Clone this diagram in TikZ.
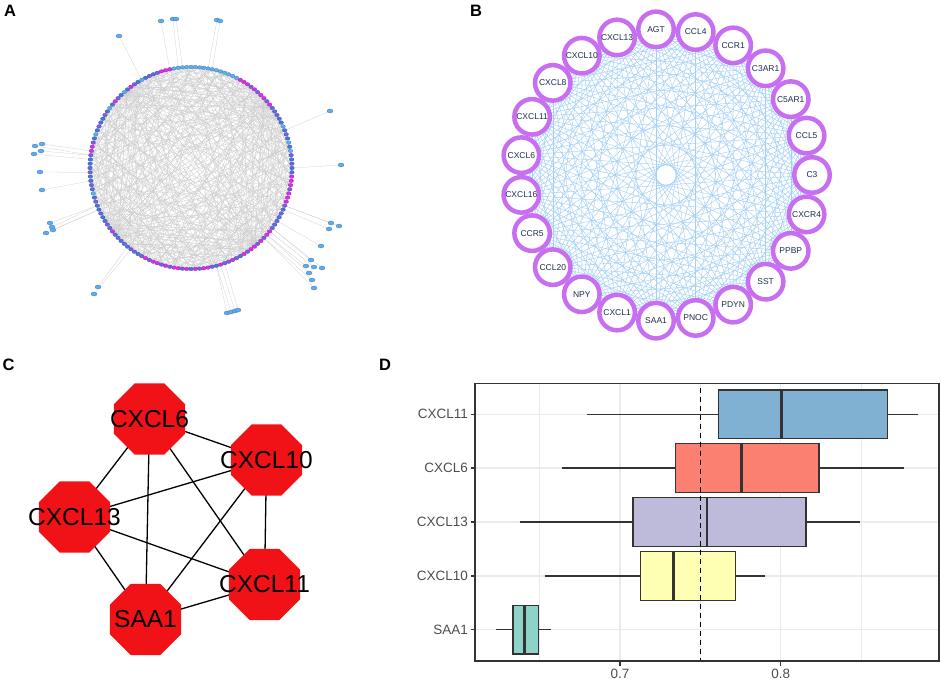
\documentclass[tikz,border=0pt]{standalone}
\usepackage{fontspec}
\setmainfont{Liberation Sans}
\usetikzlibrary{shapes.geometric,backgrounds}
\definecolor{aL}{RGB}{95,172,240}
\definecolor{aB}{RGB}{72,118,222}
\definecolor{aP}{RGB}{118,96,230}
\definecolor{aM}{RGB}{214,48,236}
\definecolor{bviolet}{RGB}{200,110,240}
\definecolor{bedge}{RGB}{165,208,245}
\definecolor{btext}{RGB}{30,45,80}
\definecolor{cred}{RGB}{240,18,22}
\definecolor{dframe}{RGB}{51,51,51}
\definecolor{dgrid}{RGB}{235,235,235}
\definecolor{dtext}{RGB}{77,77,77}
\definecolor{sthree1}{HTML}{80B1D3}
\definecolor{sthree2}{HTML}{FB8072}
\definecolor{sthree3}{HTML}{BEBADA}
\definecolor{sthree4}{HTML}{FFFFB3}
\definecolor{sthree5}{HTML}{8DD3C7}
\newcommand\drawboxrow[7]{%
  \draw[dwhisk] ({#2},{#1}) -- ({#3},{#1}) ({#5},{#1}) -- ({#6},{#1});
  \draw[dbox, fill=#7] ({#3},{#1-24.3}) rectangle ({#5},{#1+24.3});
  \draw[dmed] ({#4},{#1-24.3}) -- ({#4},{#1+24.3});
}
\def\satlist{119/36,161/21,173/19,176/19,217/20,220/21,330/111,341/165,35/146,42/144,34/154,41/151,40/172,42/190,50/223,52/227,53/230,46/233,98/287,94/294,227/313,231/312,235/311,238/310,331/223,339/226,329/229,321/246,311/260,306/266,314/267,322/268,309/273,312/280,314/288}
\begin{document}
\begin{tikzpicture}[x=1pt,y=-1pt,
  plabel/.style={font=\fontsize{16.5}{17}\selectfont\bfseries, inner sep=0},
  anode/.style={ellipse, minimum width=4.6pt, minimum height=3.6pt, inner sep=0, line width=0.3pt},
  snode/.style={ellipse, minimum width=6pt, minimum height=4pt, inner sep=0, fill=aL, draw=aL!70!black, line width=0.3pt},
  achord/.style={draw=black!20, line width=0.25pt},
  bnode/.style={circle, minimum size=35.5pt, inner sep=0, line width=4.5pt, draw=bviolet, fill=white, text=btext, font=\fontsize{8.5}{9}\selectfont},
  bedgestyle/.style={draw=bedge, line width=0.45pt},
  oct/.style={regular polygon, regular polygon sides=8, minimum size=77pt, inner sep=0, fill=cred, draw=none},
  ctext/.style={font=\fontsize{24.5}{25}\selectfont, inner sep=0},
  cedge/.style={draw=black, line width=1.3pt},
  dwhisk/.style={draw=dframe, line width=1.2pt},
  dbox/.style={draw=dframe, line width=1.2pt},
  dmed/.style={draw=dframe, line width=2.6pt},
  dlab/.style={text=dtext, font=\fontsize{13.5}{14}\selectfont, inner sep=0}
]
\useasboundingbox (0,0) rectangle (941,683);

% ---------------- Panel A ----------------
\node[plabel] (pA) at (10,11) {A};
\def\acx{191}\def\acy{168}\def\ar{101}
\foreach \cc [count=\i from 0] in {B,P,B,P,L,B,L,B,P,B,L,B,B,P,B,P,M,P,M,M,P,M,P,M,M,M,L,L,L,L,L,L,L,L,L,L,L,L,L,L,L,L,M,M,M,P,B,P,B,L,B,P,M,B,L,B,P,M,B,L,B,P,B,B,P,B,L,B,P,M,M,P,B,B,B,P,B,B,P,B,L,B,P,B,B,P,B,B,P,B,M,B,P,B,P,B,P,P,B,P,M,P,M,M,P,M,P,M,M,P,M,B,M,P,M,M,P,B,M,P,P,M,P,B,M,P,M,M,P,M,P,M,M,P,B,P,B,P,B,P,M,M,M,P,M,M,M,B} {
  \pgfmathsetmacro\ang{\i*(360/148)}
  \node[anode, fill=a\cc, draw=a\cc!75!black] (a\i) at ({\acx+\ar*cos(\ang)},{\acy-\ar*sin(\ang)}) {};
}
\foreach \x/\y [count=\k] in \satlist {
  \node[snode] (s\k) at (\x,\y) {};
}
\begin{pgfonlayer}{background}
  \foreach \i in {0,...,147} {
    \pgfmathtruncatemacro\j{mod(\i*37+53,148)}
    \pgfmathtruncatemacro\m{mod(\i*71+29,148)}
    \pgfmathtruncatemacro\n{mod(\i+25+mod(\i*13,45),148)}
    \draw[achord] (a\i.center) -- (a\j.center) (a\i.center) -- (a\m.center) (a\i.center) -- (a\n.center);
  }
  \foreach \x/\y [count=\k] in \satlist {
    \pgfmathsetmacro\sa{atan2(\acy-\y,\x-\acx)}
    \pgfmathtruncatemacro\t{mod(round(\sa/(360/148))+296,148)}
    \draw[achord] (s\k) -- (a\t.center);
  }
\end{pgfonlayer}

% ---------------- Panel B ----------------
\node[plabel] (pB) at (476,11) {B};
\def\bcx{666}\def\bcy{175}\def\br{146}
\foreach \t [count=\i from 0] in {C3,CCL5,C5AR1,C3AR1,CCR1,CCL4,AGT,CXCL13,CXCL10,CXCL8,CXCL11,CXCL6,CXCL16,CCR5,CCL20,NPY,CXCL1,SAA1,PNOC,PDYN,SST,PPBP,CXCR4} {
  \pgfmathsetmacro\ang{\i*(360/23)}
  \node[bnode] (b\i) at ({\bcx+\br*cos(\ang)},{\bcy-\br*sin(\ang)}) {\t};
}
\begin{pgfonlayer}{background}
  \foreach \i in {0,...,21} {
    \pgfmathtruncatemacro\s{\i+1}
    \foreach \j in {\s,...,22} {
      \draw[bedgestyle] (b\i.center) -- (b\j.center);
    }
  }
\end{pgfonlayer}

% ---------------- Panel C ----------------
\node[plabel] (pC) at (8.5,365) {C};
\node[oct] (c6) at (149.5,419) {};
\node[oct] (c10) at (266.5,460) {};
\node[oct] (c13) at (74.5,517) {};
\node[oct] (c11) at (264.5,584.5) {};
\node[oct] (csaa) at (145.5,619.5) {};
\node[ctext] (c6t) at (c6) {CXCL6};
\node[ctext] (c10t) at (c10) {CXCL10};
\node[ctext] (c13t) at (c13) {CXCL13};
\node[ctext] (c11t) at (c11) {CXCL11};
\node[ctext] (csaat) at (csaa) {SAA1};
\begin{pgfonlayer}{background}
  \foreach \u/\v in {c6/c10,c6/c13,c6/csaa,c6/c11,c10/c13,c10/csaa,c10/c11,c13/c11,c13/csaa,csaa/c11} {
    \draw[cedge] (\u.center) -- (\v.center);
  }
\end{pgfonlayer}

% ---------------- Panel D ----------------
\node[plabel] (pD) at (385,365) {D};
\foreach \yy in {414.3,468,522,576,629.7} {
  \draw[dgrid, line width=1.1pt] (475,\yy) -- (939,\yy);
}
\foreach \xx in {539.7,700.3,861} {
  \draw[dgrid, line width=0.55pt] (\xx,383.3) -- (\xx,661);
}
\foreach \xx in {620,780.7} {
  \draw[dgrid, line width=1.1pt] (\xx,383.3) -- (\xx,661);
}
\begin{scope}[shift={(-504.9pt,0pt)}, x=1607pt]
  \drawboxrow{414.3}{0.6797}{0.7612}{0.8006}{0.8664}{0.8855}{sthree1}
  \drawboxrow{468.0}{0.6641}{0.7344}{0.7757}{0.8238}{0.8769}{sthree2}
  \drawboxrow{522.0}{0.6376}{0.7081}{0.7541}{0.8157}{0.8495}{sthree3}
  \drawboxrow{576.0}{0.6531}{0.7129}{0.7334}{0.7718}{0.7904}{sthree4}
  \drawboxrow{629.7}{0.6227}{0.6334}{0.6404}{0.6494}{0.6571}{sthree5}
  \draw[black, line width=1.3pt, dash pattern=on 5pt off 4pt] (0.75,387.7) -- (0.75,661);
\end{scope}
\draw[dframe, line width=1.2pt] (475,383.3) rectangle (939,661);
\foreach \yy in {414.3,468,522,576,629.7} {
  \draw[dframe, line width=1.1pt] (470.5,\yy) -- (475,\yy);
}
\foreach \xx in {620,780.7} {
  \draw[dframe, line width=1.1pt] (\xx,661) -- (\xx,665.5);
}
\node[dlab, anchor=east] (ly1) at (468,414.3) {CXCL11};
\node[dlab, anchor=east] (ly2) at (468,468) {CXCL6};
\node[dlab, anchor=east] (ly3) at (468,522) {CXCL13};
\node[dlab, anchor=east] (ly4) at (468,576) {CXCL10};
\node[dlab, anchor=east] (ly5) at (468,629.7) {SAA1};
\node[dlab, anchor=north] (lx1) at (620,669) {0.7};
\node[dlab, anchor=north] (lx2) at (780.7,669) {0.8};
\end{tikzpicture}
\end{document}
